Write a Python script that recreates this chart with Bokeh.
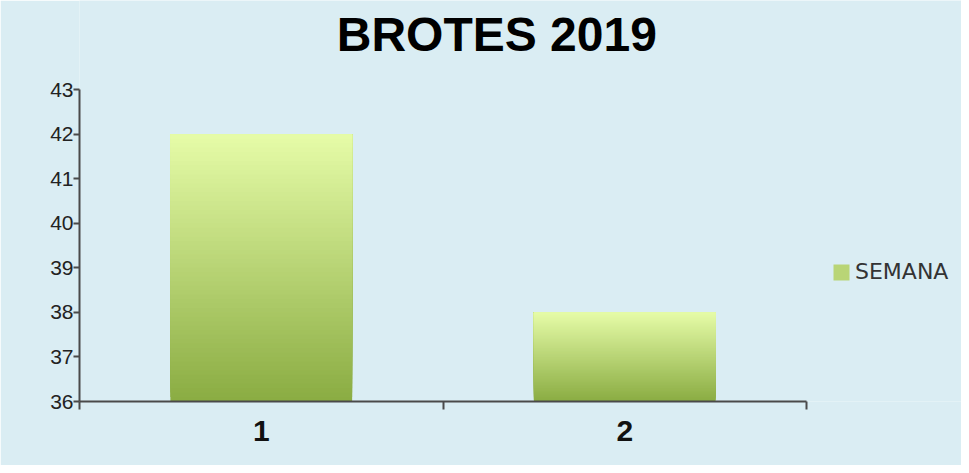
from bokeh.plotting import figure
from bokeh.models import (ColumnDataSource, Range1d, FixedTicker, Legend, LegendItem, Label)
from bokeh.embed import file_html
from bokeh.resources import INLINE

# ---- data ----
categories = ["1", "2"]
positions = [1, 2]
values = [42, 38]
y_ticks = [36, 37, 38, 39, 40, 41, 42, 43]
series_name = "SEMANA"
title_text = "BROTES 2019"

# ---- style ----
BG = "#DAEDF3"
AXIS = "#4a4a4a"
TOP = (230, 252, 168)
BOTTOM = (138, 172, 66)
BASE = 36
N_SLICES = 60
BAR_W = 0.5


def mix(t):
    r = int(round(BOTTOM[0] + (TOP[0] - BOTTOM[0]) * t))
    g = int(round(BOTTOM[1] + (TOP[1] - BOTTOM[1]) * t))
    b = int(round(BOTTOM[2] + (TOP[2] - BOTTOM[2]) * t))
    return "#%02x%02x%02x" % (r, g, b)


# gradient bars: each slice runs from its own bottom to the bar's top,
# later (lighter) slices are painted over earlier ones -> no seams
left, right, bottom, top, color = [], [], [], [], []
for x, v in zip(positions, values):
    h = v - BASE
    for k in range(N_SLICES):
        left.append(x - BAR_W / 2)
        right.append(x + BAR_W / 2)
        bottom.append(BASE + h * k / N_SLICES)
        top.append(v)
        color.append(mix((k + 0.5) / N_SLICES))

src = ColumnDataSource(dict(left=left, right=right, bottom=bottom, top=top, color=color))

# the frame covers the title and legend area too (so nothing is clipped);
# the axes themselves are bounded to the data span
p = figure(width=961, height=465, output_backend="svg", toolbar_location=None,
           x_range=Range1d(0.5, 2.9264), y_range=Range1d(36, 45),
           min_border_left=79, min_border_right=0, min_border_top=0, min_border_bottom=64)
p.background_fill_color = BG
p.border_fill_color = BG
p.outline_line_color = None
p.grid.visible = False

bars = p.quad(left="left", right="right", bottom="bottom", top="top", fill_color="color",
              line_color=None, source=src)

# title
title = Label(x=1.648, y=44.23, text=title_text, text_align="center",
              text_baseline="alphabetic", text_font="Liberation Sans",
              text_font_style="bold", text_font_size="48px", text_color="#000000")
p.add_layout(title)

# y axis
ya = p.yaxis[0]
ya.bounds = (36, 43)
ya.ticker = FixedTicker(ticks=y_ticks)
ya.axis_line_color = AXIS
ya.axis_line_width = 2
ya.major_tick_line_color = AXIS
ya.major_tick_line_width = 2
ya.major_tick_out = 6
ya.major_tick_in = 0
ya.minor_tick_line_color = None
ya.major_label_standoff = 0
ya.major_label_text_font = "Liberation Sans"
ya.major_label_text_font_size = "21px"
ya.major_label_text_color = "#222222"

# x axis
xa = p.xaxis[0]
xa.bounds = (0.5, 2.5)
xa.ticker = FixedTicker(ticks=positions, minor_ticks=[0.5, 1.5, 2.5])
xa.major_label_overrides = {pos: lab for pos, lab in zip(positions, categories)}
xa.axis_line_color = AXIS
xa.axis_line_width = 2
xa.major_tick_line_color = None
xa.major_tick_out = 0
xa.major_tick_in = 0
xa.minor_tick_line_color = AXIS
xa.minor_tick_line_width = 2
xa.minor_tick_out = 8
xa.minor_tick_in = 0
xa.major_label_standoff = 11
xa.major_label_text_font = "Liberation Sans"
xa.major_label_text_font_style = "bold"
xa.major_label_text_font_size = "30px"
xa.major_label_text_color = "#111111"

legend = Legend(items=[LegendItem(label=series_name, renderers=[bars], index=N_SLICES // 2)],
                location=(752, 117), padding=0, margin=0, spacing=0,
                glyph_width=20, glyph_height=20, label_standoff=4, label_height=20,
                border_line_color=None, background_fill_alpha=0,
                label_text_font="DejaVu Sans", label_text_font_size="22px",
                label_text_color="#333333")
p.add_layout(legend, "center")

open("out.html", "w").write(file_html(p, INLINE))
